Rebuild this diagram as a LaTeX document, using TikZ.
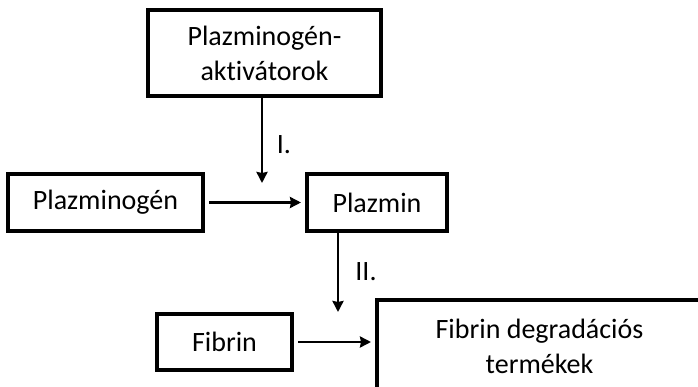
\documentclass[tikz,border=0pt]{standalone}
\usepackage{fontspec}
\setmainfont[Ligatures=NoCommon]{Carlito}
\usetikzlibrary{arrows.meta,positioning,calc}
\tikzset{
  every picture/.style={line width=2.5pt},
  sbox/.style={draw, line width=4pt, align=center, inner sep=0pt,
               font=\fontsize{28}{35}\selectfont},
  sarr/.style={-{Stealth[length=11pt,width=11pt,inset=1pt]}},
  slab/.style={font=\fontsize{28}{35}\selectfont},
}
\begin{document}
\begin{tikzpicture}[x=1pt,y=-1pt]
  \useasboundingbox (0,0) rectangle (698,387);
  \clip (0,0) rectangle (698,387);
  \node[sbox, minimum width=233, minimum height=86] (act) at (264.5,53) {Plazminogén-\\aktivátorok};
  \node[sbox, minimum width=195, minimum height=57] (plg) at (105.5,202.5) {Plazminogén};
  \node[sbox, minimum width=140, minimum height=57] (plm) at (377,202.5) {Plazmin};
  \node[sbox, minimum width=135, minimum height=56] (fib) at (224.5,342) {Fibrin};
  \node[sbox, minimum width=325, minimum height=92] (fdp) at (539.5,346) {Fibrin degradációs\\termékek};
  \coordinate (i) at (262,183);
  \coordinate (iitop) at (338,233);
  \coordinate (iibot) at (338,312);
  \draw[sarr] (act.south -| i) -- (i);
  \node[slab] at (284,145) {I.};
  \draw[sarr] ($(plg.east)+(4,0)$) -- ($(plm.west)+(-4,0)$);
  \draw[sarr] (iitop) -- (iibot);
  \node[slab] at (366,272) {II.};
  \draw[sarr] ($(fib.east)+(4,0)$) -- ($(fib.east -| fdp.west)+(-4,0)$);
\end{tikzpicture}
\end{document}
